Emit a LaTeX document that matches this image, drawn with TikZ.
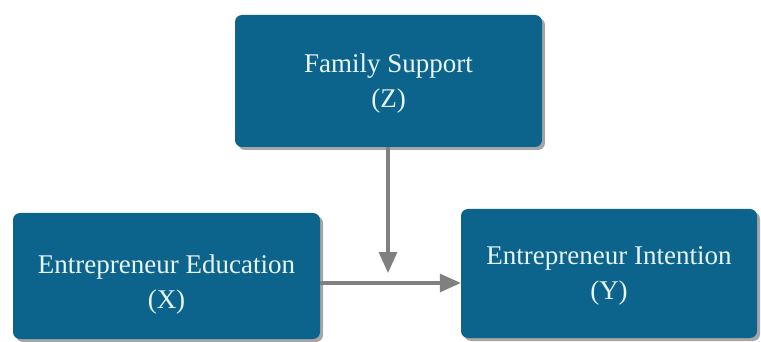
\documentclass[tikz,border=0pt]{standalone}
\usepackage{fontspec}
\setmainfont{Liberation Serif}
\usetikzlibrary{arrows.meta,shadows}
\definecolor{boxcolor}{RGB}{12, 100, 140}
\definecolor{textcolor}{RGB}{232, 246, 247}
\colorlet{arrowcolor}{black!50}
\colorlet{bordercolor}{white}

\tikzset{
  varbox/.style={fill=boxcolor, rounded corners=7pt, inner sep=0pt,
    drop shadow={shadow xshift=3pt, shadow yshift=-3pt, opacity=0.35, fill=black}},
  vartext/.style={text=textcolor, align=center, inner sep=0pt,
    font=\fontsize{27}{35}\selectfont},
  link/.style={draw=arrowcolor, line width=3.2pt, -{Triangle[length=21pt, width=18pt]}},
}

\begin{document}
\begin{tikzpicture}[x=1pt, y=-1pt]
        \useasboundingbox[fill=bordercolor] (0, 0) rectangle (761, 342);
        % Variables {{{
        \node[varbox, minimum width=307pt, minimum height=132pt] (support) at (388.5, 81) {};
        \node[varbox, minimum width=307pt, minimum height=126pt] (education) at (166.5, 276) {};
        \node[varbox, minimum width=296pt, minimum height=129pt] (intention) at (609, 273.5) {};
        \node[vartext] (supporttext) at ([yshift=-3pt]support.center) {Family Support\\(Z)};
        \node[vartext] (educationtext) at ([yshift=-9pt]education.center) {Entrepreneur Education\\(X)};
        \node[vartext] (intentiontext) at ([yshift=-2pt]intention.center) {Entrepreneur Intention\\(Y)};
        % }}}
        % Paths {{{
        \coordinate (join) at (388, 283);
        \draw[link] (education.east |- join) -- (intention.west |- join);
        \draw[link] (support.south -| join) -- ([yshift=10pt]join); % moderator
        % }}}
\end{tikzpicture}
\end{document}
